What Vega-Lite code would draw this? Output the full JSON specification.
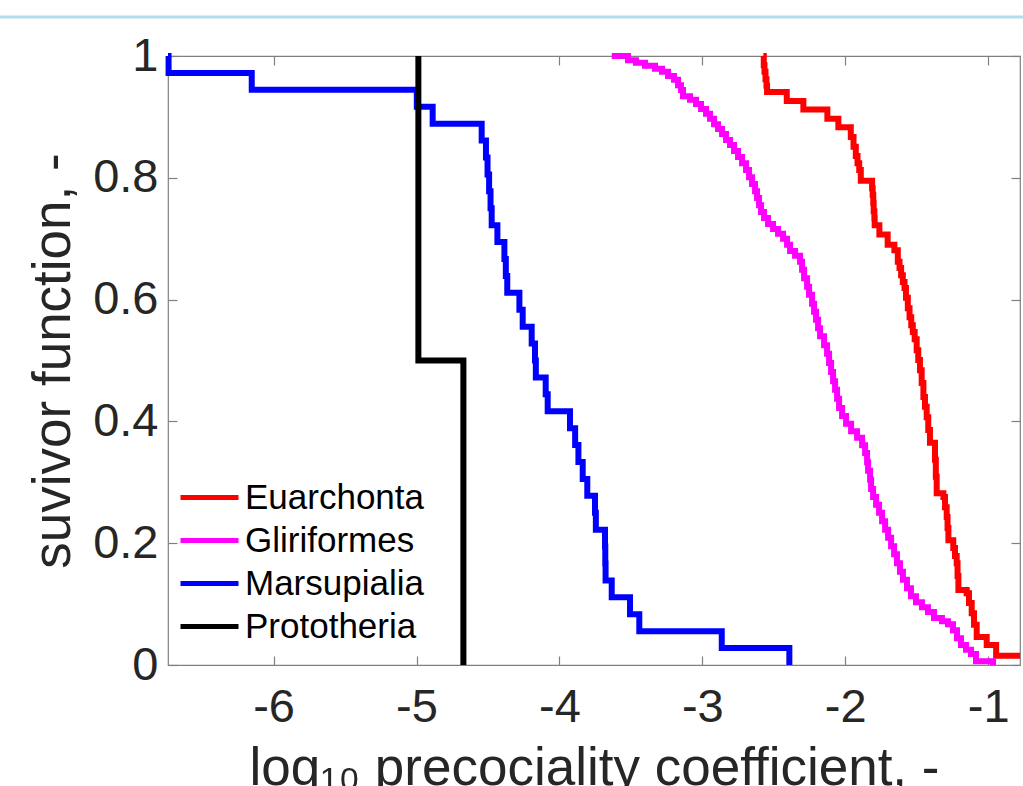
{
  "$schema": "https://vega.github.io/schema/vega-lite/v6.json",
  "width": 852,
  "height": 609,
  "autosize": {"type": "none"},
  "padding": {"left": 168, "top": 56, "right": 3, "bottom": 121},
  "background": "white",
  "config": {
    "view": {"stroke": "#808080", "strokeWidth": 1.2},
    "axis": {
      "domain": false,
      "grid": false,
      "tickColor": "#808080",
      "tickSize": -9,
      "tickWidth": 1.2,
      "labelFont": "Liberation Sans",
      "labelFontSize": 47,
      "labelColor": "#262626",
      "titleFont": "Liberation Sans",
      "titleFontSize": 53,
      "titleFontWeight": "normal",
      "titleColor": "#262626"
    },
    "legend": {
      "labelFont": "Liberation Sans",
      "labelFontSize": 35,
      "labelColor": "#000000",
      "labelLimit": 0
    }
  },
  "datasets": {
    "curves": [
      {"g": "Euarchonta", "i": 0, "x": -2.573, "y": 1},
      {"g": "Euarchonta", "i": 1, "x": -2.570, "y": 0.985},
      {"g": "Euarchonta", "i": 2, "x": -2.565, "y": 0.974},
      {"g": "Euarchonta", "i": 3, "x": -2.558, "y": 0.962},
      {"g": "Euarchonta", "i": 4, "x": -2.551, "y": 0.951},
      {"g": "Euarchonta", "i": 5, "x": -2.547, "y": 0.941},
      {"g": "Euarchonta", "i": 6, "x": -2.409, "y": 0.926},
      {"g": "Euarchonta", "i": 7, "x": -2.293, "y": 0.912},
      {"g": "Euarchonta", "i": 8, "x": -2.125, "y": 0.897},
      {"g": "Euarchonta", "i": 9, "x": -2.048, "y": 0.883},
      {"g": "Euarchonta", "i": 10, "x": -1.961, "y": 0.867},
      {"g": "Euarchonta", "i": 11, "x": -1.942, "y": 0.851},
      {"g": "Euarchonta", "i": 12, "x": -1.926, "y": 0.836},
      {"g": "Euarchonta", "i": 13, "x": -1.914, "y": 0.824},
      {"g": "Euarchonta", "i": 14, "x": -1.902, "y": 0.813},
      {"g": "Euarchonta", "i": 15, "x": -1.891, "y": 0.795},
      {"g": "Euarchonta", "i": 16, "x": -1.812, "y": 0.783},
      {"g": "Euarchonta", "i": 17, "x": -1.808, "y": 0.772},
      {"g": "Euarchonta", "i": 18, "x": -1.804, "y": 0.759},
      {"g": "Euarchonta", "i": 19, "x": -1.801, "y": 0.745},
      {"g": "Euarchonta", "i": 20, "x": -1.796, "y": 0.734},
      {"g": "Euarchonta", "i": 21, "x": -1.794, "y": 0.722},
      {"g": "Euarchonta", "i": 22, "x": -1.761, "y": 0.707},
      {"g": "Euarchonta", "i": 23, "x": -1.703, "y": 0.690},
      {"g": "Euarchonta", "i": 24, "x": -1.656, "y": 0.681},
      {"g": "Euarchonta", "i": 25, "x": -1.632, "y": 0.662},
      {"g": "Euarchonta", "i": 26, "x": -1.620, "y": 0.652},
      {"g": "Euarchonta", "i": 27, "x": -1.609, "y": 0.640},
      {"g": "Euarchonta", "i": 28, "x": -1.597, "y": 0.629},
      {"g": "Euarchonta", "i": 29, "x": -1.585, "y": 0.619},
      {"g": "Euarchonta", "i": 30, "x": -1.575, "y": 0.603},
      {"g": "Euarchonta", "i": 31, "x": -1.562, "y": 0.586},
      {"g": "Euarchonta", "i": 32, "x": -1.550, "y": 0.571},
      {"g": "Euarchonta", "i": 33, "x": -1.538, "y": 0.558},
      {"g": "Euarchonta", "i": 34, "x": -1.527, "y": 0.547},
      {"g": "Euarchonta", "i": 35, "x": -1.514, "y": 0.535},
      {"g": "Euarchonta", "i": 36, "x": -1.500, "y": 0.517},
      {"g": "Euarchonta", "i": 37, "x": -1.489, "y": 0.501},
      {"g": "Euarchonta", "i": 38, "x": -1.477, "y": 0.484},
      {"g": "Euarchonta", "i": 39, "x": -1.465, "y": 0.463},
      {"g": "Euarchonta", "i": 40, "x": -1.453, "y": 0.440},
      {"g": "Euarchonta", "i": 41, "x": -1.442, "y": 0.424},
      {"g": "Euarchonta", "i": 42, "x": -1.430, "y": 0.407},
      {"g": "Euarchonta", "i": 43, "x": -1.419, "y": 0.386},
      {"g": "Euarchonta", "i": 44, "x": -1.407, "y": 0.365},
      {"g": "Euarchonta", "i": 45, "x": -1.372, "y": 0.337},
      {"g": "Euarchonta", "i": 46, "x": -1.366, "y": 0.309},
      {"g": "Euarchonta", "i": 47, "x": -1.360, "y": 0.282},
      {"g": "Euarchonta", "i": 48, "x": -1.313, "y": 0.276},
      {"g": "Euarchonta", "i": 49, "x": -1.302, "y": 0.259},
      {"g": "Euarchonta", "i": 50, "x": -1.290, "y": 0.243},
      {"g": "Euarchonta", "i": 51, "x": -1.284, "y": 0.225},
      {"g": "Euarchonta", "i": 52, "x": -1.278, "y": 0.205},
      {"g": "Euarchonta", "i": 53, "x": -1.244, "y": 0.192},
      {"g": "Euarchonta", "i": 54, "x": -1.232, "y": 0.179},
      {"g": "Euarchonta", "i": 55, "x": -1.220, "y": 0.167},
      {"g": "Euarchonta", "i": 56, "x": -1.214, "y": 0.146},
      {"g": "Euarchonta", "i": 57, "x": -1.208, "y": 0.123},
      {"g": "Euarchonta", "i": 58, "x": -1.150, "y": 0.118},
      {"g": "Euarchonta", "i": 59, "x": -1.134, "y": 0.102},
      {"g": "Euarchonta", "i": 60, "x": -1.115, "y": 0.085},
      {"g": "Euarchonta", "i": 61, "x": -1.099, "y": 0.066},
      {"g": "Euarchonta", "i": 62, "x": -1.080, "y": 0.046},
      {"g": "Euarchonta", "i": 63, "x": -1.010, "y": 0.033},
      {"g": "Euarchonta", "i": 64, "x": -0.944, "y": 0.015},
      {"g": "Euarchonta", "i": 65, "x": -0.777, "y": 0.015},

      {"g": "Gliriformes", "i": 0, "x": -3.634, "y": 1},
      {"g": "Gliriformes", "i": 1, "x": -3.520, "y": 0.993},
      {"g": "Gliriformes", "i": 2, "x": -3.464, "y": 0.989},
      {"g": "Gliriformes", "i": 3, "x": -3.401, "y": 0.984},
      {"g": "Gliriformes", "i": 4, "x": -3.331, "y": 0.979},
      {"g": "Gliriformes", "i": 5, "x": -3.282, "y": 0.974},
      {"g": "Gliriformes", "i": 6, "x": -3.240, "y": 0.967},
      {"g": "Gliriformes", "i": 7, "x": -3.198, "y": 0.961},
      {"g": "Gliriformes", "i": 8, "x": -3.170, "y": 0.952},
      {"g": "Gliriformes", "i": 9, "x": -3.149, "y": 0.944},
      {"g": "Gliriformes", "i": 10, "x": -3.135, "y": 0.934},
      {"g": "Gliriformes", "i": 11, "x": -3.086, "y": 0.928},
      {"g": "Gliriformes", "i": 12, "x": -3.044, "y": 0.921},
      {"g": "Gliriformes", "i": 13, "x": -3.009, "y": 0.913},
      {"g": "Gliriformes", "i": 14, "x": -2.974, "y": 0.905},
      {"g": "Gliriformes", "i": 15, "x": -2.946, "y": 0.897},
      {"g": "Gliriformes", "i": 16, "x": -2.918, "y": 0.888},
      {"g": "Gliriformes", "i": 17, "x": -2.890, "y": 0.880},
      {"g": "Gliriformes", "i": 18, "x": -2.862, "y": 0.872},
      {"g": "Gliriformes", "i": 19, "x": -2.834, "y": 0.862},
      {"g": "Gliriformes", "i": 20, "x": -2.806, "y": 0.854},
      {"g": "Gliriformes", "i": 21, "x": -2.778, "y": 0.844},
      {"g": "Gliriformes", "i": 22, "x": -2.750, "y": 0.834},
      {"g": "Gliriformes", "i": 23, "x": -2.722, "y": 0.824},
      {"g": "Gliriformes", "i": 24, "x": -2.694, "y": 0.813},
      {"g": "Gliriformes", "i": 25, "x": -2.673, "y": 0.801},
      {"g": "Gliriformes", "i": 26, "x": -2.652, "y": 0.790},
      {"g": "Gliriformes", "i": 27, "x": -2.631, "y": 0.778},
      {"g": "Gliriformes", "i": 28, "x": -2.617, "y": 0.767},
      {"g": "Gliriformes", "i": 29, "x": -2.603, "y": 0.755},
      {"g": "Gliriformes", "i": 30, "x": -2.589, "y": 0.744},
      {"g": "Gliriformes", "i": 31, "x": -2.568, "y": 0.734},
      {"g": "Gliriformes", "i": 32, "x": -2.540, "y": 0.724},
      {"g": "Gliriformes", "i": 33, "x": -2.505, "y": 0.716},
      {"g": "Gliriformes", "i": 34, "x": -2.470, "y": 0.708},
      {"g": "Gliriformes", "i": 35, "x": -2.435, "y": 0.700},
      {"g": "Gliriformes", "i": 36, "x": -2.407, "y": 0.690},
      {"g": "Gliriformes", "i": 37, "x": -2.386, "y": 0.680},
      {"g": "Gliriformes", "i": 38, "x": -2.351, "y": 0.672},
      {"g": "Gliriformes", "i": 39, "x": -2.316, "y": 0.662},
      {"g": "Gliriformes", "i": 40, "x": -2.302, "y": 0.649},
      {"g": "Gliriformes", "i": 41, "x": -2.288, "y": 0.635},
      {"g": "Gliriformes", "i": 42, "x": -2.267, "y": 0.621},
      {"g": "Gliriformes", "i": 43, "x": -2.253, "y": 0.608},
      {"g": "Gliriformes", "i": 44, "x": -2.232, "y": 0.593},
      {"g": "Gliriformes", "i": 45, "x": -2.218, "y": 0.580},
      {"g": "Gliriformes", "i": 46, "x": -2.204, "y": 0.567},
      {"g": "Gliriformes", "i": 47, "x": -2.190, "y": 0.553},
      {"g": "Gliriformes", "i": 48, "x": -2.176, "y": 0.540},
      {"g": "Gliriformes", "i": 49, "x": -2.148, "y": 0.525},
      {"g": "Gliriformes", "i": 50, "x": -2.127, "y": 0.511},
      {"g": "Gliriformes", "i": 51, "x": -2.113, "y": 0.496},
      {"g": "Gliriformes", "i": 52, "x": -2.099, "y": 0.481},
      {"g": "Gliriformes", "i": 53, "x": -2.085, "y": 0.466},
      {"g": "Gliriformes", "i": 54, "x": -2.071, "y": 0.452},
      {"g": "Gliriformes", "i": 55, "x": -2.057, "y": 0.437},
      {"g": "Gliriformes", "i": 56, "x": -2.043, "y": 0.422},
      {"g": "Gliriformes", "i": 57, "x": -2.022, "y": 0.409},
      {"g": "Gliriformes", "i": 58, "x": -1.994, "y": 0.396},
      {"g": "Gliriformes", "i": 59, "x": -1.959, "y": 0.384},
      {"g": "Gliriformes", "i": 60, "x": -1.917, "y": 0.373},
      {"g": "Gliriformes", "i": 61, "x": -1.882, "y": 0.361},
      {"g": "Gliriformes", "i": 62, "x": -1.861, "y": 0.348},
      {"g": "Gliriformes", "i": 63, "x": -1.847, "y": 0.333},
      {"g": "Gliriformes", "i": 64, "x": -1.840, "y": 0.319},
      {"g": "Gliriformes", "i": 65, "x": -1.826, "y": 0.304},
      {"g": "Gliriformes", "i": 66, "x": -1.819, "y": 0.289},
      {"g": "Gliriformes", "i": 67, "x": -1.805, "y": 0.276},
      {"g": "Gliriformes", "i": 68, "x": -1.784, "y": 0.263},
      {"g": "Gliriformes", "i": 69, "x": -1.763, "y": 0.250},
      {"g": "Gliriformes", "i": 70, "x": -1.742, "y": 0.236},
      {"g": "Gliriformes", "i": 71, "x": -1.721, "y": 0.222},
      {"g": "Gliriformes", "i": 72, "x": -1.700, "y": 0.209},
      {"g": "Gliriformes", "i": 73, "x": -1.679, "y": 0.195},
      {"g": "Gliriformes", "i": 74, "x": -1.658, "y": 0.182},
      {"g": "Gliriformes", "i": 75, "x": -1.638, "y": 0.167},
      {"g": "Gliriformes", "i": 76, "x": -1.617, "y": 0.153},
      {"g": "Gliriformes", "i": 77, "x": -1.596, "y": 0.140},
      {"g": "Gliriformes", "i": 78, "x": -1.568, "y": 0.126},
      {"g": "Gliriformes", "i": 79, "x": -1.540, "y": 0.113},
      {"g": "Gliriformes", "i": 80, "x": -1.505, "y": 0.103},
      {"g": "Gliriformes", "i": 81, "x": -1.463, "y": 0.095},
      {"g": "Gliriformes", "i": 82, "x": -1.421, "y": 0.087},
      {"g": "Gliriformes", "i": 83, "x": -1.379, "y": 0.077},
      {"g": "Gliriformes", "i": 84, "x": -1.323, "y": 0.072},
      {"g": "Gliriformes", "i": 85, "x": -1.281, "y": 0.067},
      {"g": "Gliriformes", "i": 86, "x": -1.246, "y": 0.057},
      {"g": "Gliriformes", "i": 87, "x": -1.218, "y": 0.044},
      {"g": "Gliriformes", "i": 88, "x": -1.190, "y": 0.033},
      {"g": "Gliriformes", "i": 89, "x": -1.155, "y": 0.025},
      {"g": "Gliriformes", "i": 90, "x": -1.120, "y": 0.018},
      {"g": "Gliriformes", "i": 91, "x": -1.085, "y": 0.006},
      {"g": "Gliriformes", "i": 92, "x": -0.966, "y": 0},

      {"g": "Marsupialia", "i": 0, "x": -6.739, "y": 1},
      {"g": "Marsupialia", "i": 1, "x": -6.735, "y": 0.9722},
      {"g": "Marsupialia", "i": 2, "x": -6.153, "y": 0.9444},
      {"g": "Marsupialia", "i": 3, "x": -4.998, "y": 0.9167},
      {"g": "Marsupialia", "i": 4, "x": -4.887, "y": 0.8889},
      {"g": "Marsupialia", "i": 5, "x": -4.544, "y": 0.8611},
      {"g": "Marsupialia", "i": 6, "x": -4.514, "y": 0.8333},
      {"g": "Marsupialia", "i": 7, "x": -4.503, "y": 0.8056},
      {"g": "Marsupialia", "i": 8, "x": -4.492, "y": 0.7778},
      {"g": "Marsupialia", "i": 9, "x": -4.482, "y": 0.75},
      {"g": "Marsupialia", "i": 10, "x": -4.474, "y": 0.7222},
      {"g": "Marsupialia", "i": 11, "x": -4.434, "y": 0.6944},
      {"g": "Marsupialia", "i": 12, "x": -4.385, "y": 0.6667},
      {"g": "Marsupialia", "i": 13, "x": -4.375, "y": 0.6389},
      {"g": "Marsupialia", "i": 14, "x": -4.365, "y": 0.6111},
      {"g": "Marsupialia", "i": 15, "x": -4.280, "y": 0.5833},
      {"g": "Marsupialia", "i": 16, "x": -4.257, "y": 0.5556},
      {"g": "Marsupialia", "i": 17, "x": -4.194, "y": 0.5278},
      {"g": "Marsupialia", "i": 18, "x": -4.171, "y": 0.5},
      {"g": "Marsupialia", "i": 19, "x": -4.165, "y": 0.4722},
      {"g": "Marsupialia", "i": 20, "x": -4.096, "y": 0.4444},
      {"g": "Marsupialia", "i": 21, "x": -4.082, "y": 0.4167},
      {"g": "Marsupialia", "i": 22, "x": -3.926, "y": 0.3889},
      {"g": "Marsupialia", "i": 23, "x": -3.890, "y": 0.3611},
      {"g": "Marsupialia", "i": 24, "x": -3.867, "y": 0.3333},
      {"g": "Marsupialia", "i": 25, "x": -3.837, "y": 0.3056},
      {"g": "Marsupialia", "i": 26, "x": -3.805, "y": 0.2778},
      {"g": "Marsupialia", "i": 27, "x": -3.751, "y": 0.25},
      {"g": "Marsupialia", "i": 28, "x": -3.745, "y": 0.2222},
      {"g": "Marsupialia", "i": 29, "x": -3.681, "y": 0.1944},
      {"g": "Marsupialia", "i": 30, "x": -3.679, "y": 0.1667},
      {"g": "Marsupialia", "i": 31, "x": -3.677, "y": 0.1389},
      {"g": "Marsupialia", "i": 32, "x": -3.634, "y": 0.1111},
      {"g": "Marsupialia", "i": 33, "x": -3.506, "y": 0.0833},
      {"g": "Marsupialia", "i": 34, "x": -3.441, "y": 0.0556},
      {"g": "Marsupialia", "i": 35, "x": -2.864, "y": 0.0278},
      {"g": "Marsupialia", "i": 36, "x": -2.391, "y": 0},

      {"g": "Prototheria", "i": 0, "x": -4.987, "y": 1},
      {"g": "Prototheria", "i": 1, "x": -4.987, "y": 0.5},
      {"g": "Prototheria", "i": 2, "x": -4.672, "y": 0}
    ],
    "frame": [{"a": 1}]
  },
  "layer": [
    {
      "data": {"name": "curves"},
      "mark": {"type": "line", "interpolate": "step-after", "strokeWidth": 6, "strokeCap": "butt", "strokeJoin": "miter"},
      "encoding": {
        "x": {
          "field": "x", "type": "quantitative",
          "scale": {"domain": [-6.739, -0.777], "nice": false, "zero": false},
          "axis": {"orient": "bottom", "values": [-6, -5, -4, -3, -2, -1], "labelExpr": "'' + datum.value", "labelPadding": 28, "title": "log₁₀ precociality coefficient, -", "titlePadding": 12}
        },
        "y": {
          "field": "y", "type": "quantitative",
          "scale": {"domain": [0, 1], "nice": false, "zero": false},
          "axis": {"orient": "left", "values": [0, 0.2, 0.4, 0.6, 0.8, 1], "labelExpr": "'' + datum.value", "labelPadding": 19, "title": "suvivor function, -", "titlePadding": 12}
        },
        "color": {
          "field": "g", "type": "nominal",
          "scale": {"domain": ["Euarchonta", "Gliriformes", "Marsupialia", "Prototheria"], "range": ["#ff0000", "#ff00ff", "#0000ff", "#000000"]},
          "legend": {"title": null, "orient": "none", "legendX": 10, "legendY": 420, "symbolType": "stroke", "symbolSize": 3364, "symbolStrokeWidth": 5, "clipHeight": 43, "rowPadding": 0, "labelOffset": 4, "padding": 0}
        },
        "order": {"field": "i", "type": "quantitative"}
      }
    },
    {
      "data": {"name": "frame"},
      "mark": {"type": "rule", "color": "#b4dde9", "strokeWidth": 3},
      "encoding": {
        "x": {"datum": -7.92, "type": "quantitative", "scale": {"domain": [-6.739, -0.777], "nice": false, "zero": false}, "axis": {"orient": "top", "values": [-6, -5, -4, -3, -2, -1], "labels": false, "title": null}},
        "x2": {"datum": -0.75},
        "y": {"datum": 1.064, "type": "quantitative", "scale": {"domain": [0, 1], "nice": false, "zero": false}, "axis": {"orient": "right", "values": [0, 0.2, 0.4, 0.6, 0.8, 1], "labels": false, "title": null}}
      }
    }
  ],
  "resolve": {"axis": {"x": "independent", "y": "independent"}}
}
